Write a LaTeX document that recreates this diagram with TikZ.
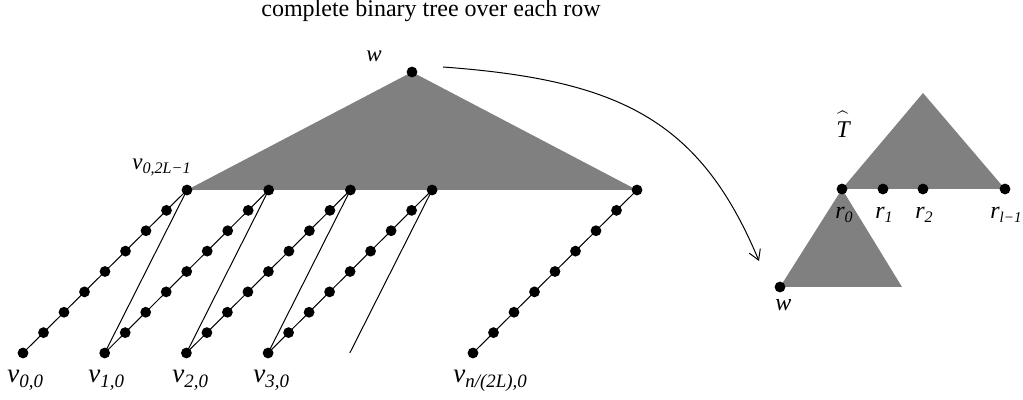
\documentclass[tikz,border=0pt]{standalone}
\usepackage{fontspec}
\setmainfont{Liberation Serif}
\usetikzlibrary{arrows.meta,positioning,calc}

\begin{document}
\begin{tikzpicture}[x=0.5pt,y=-0.5pt,
  treedot/.style={circle,fill=black,inner sep=0pt,minimum size=5.4pt},
  treetri/.style={fill=gray,draw=none},
  chainline/.style={draw=black,line width=0.5pt},
  biglabel/.style={anchor=base west,inner sep=0pt,font=\fontsize{13.5}{15}\selectfont\itshape},
  smalllabel/.style={anchor=base west,inner sep=0pt,font=\fontsize{11.5}{13}\selectfont\itshape},
  rlabel/.style={anchor=base west,inner sep=0pt,font=\fontsize{12}{14}\selectfont\itshape}
]
  \useasboundingbox (0,0) rectangle (1023,400);

  % complete binary tree over the rows
  \coordinate (wtop) at (412,72);
  \foreach \i in {0,...,4} {
    \coordinate (b\i) at (23+81.7*\i,353);
    \coordinate (t\i) at (187+81.7*\i,190);
  }
  \coordinate (bn) at (473,353);
  \coordinate (tn) at (637,190);
  \fill[treetri] (wtop) -- (t0) -- (tn) -- cycle;

  % chains and back edges
  \foreach \i in {0,...,3}
    \draw[chainline] (b\i) -- (t\i);
  \foreach \i [evaluate=\i as \j using int(\i-1)] in {1,...,4}
    \draw[chainline] (b\i) -- (t\j);
  \draw[chainline] (bn) -- (tn);

  \foreach \i in {0,...,3} {
    \node[treedot] (v\i) at (b\i) {};
    \node[treedot] (top\i) at (t\i) {};
    \foreach \k in {1,...,7}
      \node[treedot] (c\i-\k) at ($(b\i)!\k/8!(t\i)$) {};
  }
  \node[treedot] (vn) at (bn) {};
  \node[treedot] (topn) at (tn) {};
  \foreach \k in {1,...,7}
    \node[treedot] (cn-\k) at ($(bn)!\k/8!(tn)$) {};
  \node[treedot] (w) at (wtop) {};

  \node[anchor=base,inner sep=0pt,font=\fontsize{12}{14}\selectfont] (title) at (431,17)
    {complete binary tree over each row};
  \node[smalllabel] (wlab) at (366,62) {w};
  \node[smalllabel] (toplab) at (132,170) {v\textsubscript{0,2L−1}};
  \node[biglabel] (lab0) at (7,383) {v\textsubscript{0,0}};
  \node[biglabel] (lab1) at (88,383) {v\textsubscript{1,0}};
  \node[biglabel] (lab2) at (172,383) {v\textsubscript{2,0}};
  \node[biglabel] (lab3) at (253,383) {v\textsubscript{3,0}};
  \node[biglabel] (labn) at (453,383) {v\textsubscript{n/(2L),0}};

  % the tree T-hat
  \coordinate (r0pos) at (842,189);
  \coordinate (rlpos) at (1005,189);
  \coordinate (thapex) at (923,93);
  \coordinate (wbot) at (780,287);
  \coordinate (lowright) at (902,287);
  \fill[treetri] (thapex) -- (r0pos) -- (rlpos) -- cycle;
  \fill[treetri] (r0pos) -- (wbot) -- (lowright) -- cycle;
  \node[treedot] (r0) at (r0pos) {};
  \node[treedot] (r1) at (883,189) {};
  \node[treedot] (r2) at (923,189) {};
  \node[treedot] (rl) at (rlpos) {};
  \node[treedot] (w2) at (wbot) {};

  \node[rlabel] (thatlab) at (836,138) {$\widehat{\vphantom{\rule{0pt}{10.5pt}}\mbox{\itshape T}}$};
  \node[rlabel] (r0lab) at (835,219) {r\textsubscript{0}};
  \node[rlabel] (r1lab) at (875,219) {r\textsubscript{1}};
  \node[rlabel] (r2lab) at (915,219) {r\textsubscript{2}};
  \node[rlabel] (rllab) at (990,219) {r\textsubscript{\fontsize{7.5}{9}\selectfont l−1}};
  \node[rlabel] (w2lab) at (775,311) {w};

  % mapping arrow
  \coordinate (arrstart) at (443,67);
  \coordinate (arrend) at (759,261);
  \draw[line width=0.5pt,-{Straight Barb[length=5pt,width=6pt]}]
    (arrstart) .. controls (620,80) and (700,120) .. (arrend);
\end{tikzpicture}
\end{document}
